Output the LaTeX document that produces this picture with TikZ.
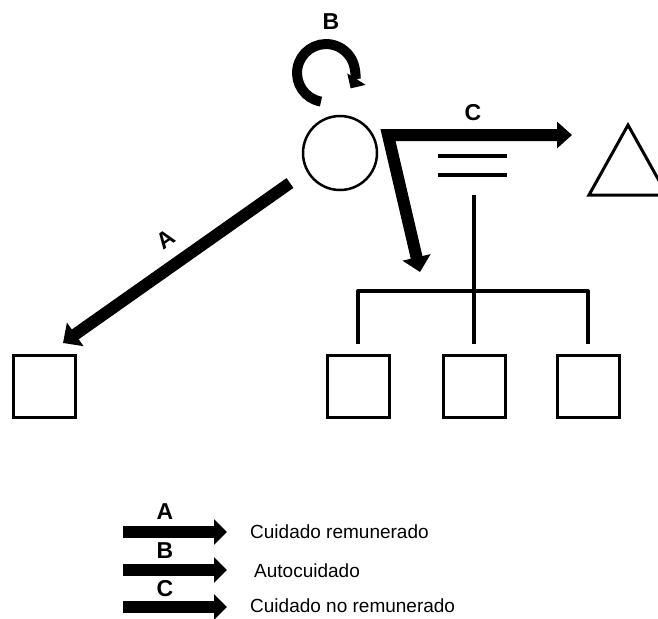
\documentclass[tikz,border=0pt]{standalone}
\usepackage{fontspec}
\setmainfont{Liberation Sans}
\usetikzlibrary{arrows.meta}
\begin{document}
\begin{tikzpicture}[x=1pt,y=-1pt,
  fat/.style={line width=12pt,-{Triangle[length=15pt,width=28pt]}},
  legarrow/.style={line width=12pt,-{Triangle[length=13pt,width=25pt]}},
  box/.style={draw,line width=3pt,minimum size=62pt,inner sep=0pt},
  rel/.style={line width=4pt,line join=round},
  lbl/.style={font=\fontsize{23}{26}\selectfont\bfseries,inner sep=0pt},
  txt/.style={font=\fontsize{19}{22}\selectfont,anchor=west,inner sep=0pt}]
\useasboundingbox (0,0) rectangle (658,618);
\clip (0,0) rectangle (658,618);
% ego
\node[circle,draw,line width=2.5pt,minimum size=74pt,inner sep=0pt] (ego) at (340,153) {};
% triangle (partner)
\draw[line width=3pt,line join=miter] (628,125) coordinate (tri) -- (589,195) -- (667,195) -- cycle;
% boxes
\node[box] (sq0) at (44.5,386) {};
\node[box] (sq1) at (358,386) {};
\node[box] (sq2) at (474,386) {};
\node[box] (sq3) at (588,386) {};
% marriage lines and family tree
\draw[rel] (438,156) -- (507,156);
\draw[rel] (438,175) -- (507,175);
\coordinate (mar) at (474,195);
\coordinate (fam) at (474,291);
\draw[rel] (mar) -- (fam);
\draw[rel] ([yshift=10pt]sq1.north) -- (sq1.north |- fam) -- (sq3.north |- fam) -- ([yshift=10pt]sq3.north);
\draw[rel] (fam) -- ([yshift=10pt]sq2.north);
% arrow A
\coordinate (a0) at (290,183);
\coordinate (a1) at (63,343);
\draw[fat] (a0) -- (a1);
\node[lbl,rotate=35] (la) at (166,239) {A};
% arrow B (self care)
\draw[line width=10pt,-{Triangle[length=11pt,width=21pt]}] (321,101.6) coordinate (b0) arc[start angle=100,end angle=392,radius=29];
\node[lbl] (lb) at (331,21.5) {B};
% arrow C
\coordinate (c0) at (388,135);
\coordinate (c1) at (420,272);
\coordinate (c2) at (572,135);
\draw[line width=12pt,line join=miter,{Triangle[length=15pt,width=28pt]}-{Triangle[length=15pt,width=26pt]}] (c1) -- (c0) -- (c2);
\node[lbl] (lc) at (473,113) {C};
% legend
\coordinate (la0) at (123,532); \coordinate (la1) at (227,532);
\coordinate (lb0) at (123,570); \coordinate (lb1) at (227,570);
\coordinate (lc0) at (123,607); \coordinate (lc1) at (227,607);
\draw[legarrow] (la0) -- (la1);
\draw[legarrow] (lb0) -- (lb1);
\draw[legarrow] (lc0) -- (lc1);
\node[lbl] (ka) at (165,512) {A};
\node[lbl] (kb) at (165,551) {B};
\node[lbl] (kc) at (165,589) {C};
\node[txt] (ta) at (250,532) {Cuidado remunerado};
\node[txt] (tb) at (254,571) {Autocuidado};
\node[txt] (tc) at (250,606) {Cuidado no remunerado};
\end{tikzpicture}
\end{document}
